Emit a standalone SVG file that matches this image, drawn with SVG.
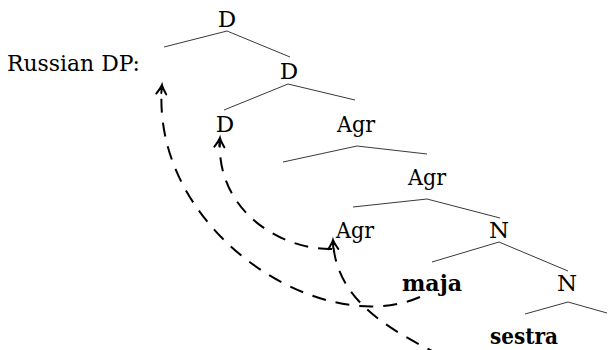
<svg xmlns="http://www.w3.org/2000/svg" width="608" height="350" viewBox="0 0 608 350">
  <style>
    .t { font-family: "DejaVu Serif", serif; font-size: 23px; fill: #000; text-anchor: middle; }
    .b { font-weight: bold; }
    .br { fill: none; stroke: #222; stroke-width: 0.9; }
    .mv { fill: none; stroke: #000; stroke-width: 2; stroke-dasharray: 14 10; }
    .ah { fill: none; stroke: #000; stroke-width: 2; stroke-dasharray: none; stroke-linecap: round; }
  </style>
  <defs>
    <marker id="arrow" markerUnits="userSpaceOnUse" markerWidth="24" markerHeight="24" viewBox="-12 -12 24 24" refX="0" refY="0" orient="auto" overflow="visible">
      <path class="ah" d="M-9,-5 Q-3,-1 0,0 Q-3,1 -9,5 M-8,0 L0,0"/>
    </marker>
  </defs>

  <rect width="608" height="350" fill="#fff"/>

  <g id="label-russian-dp">
    <text class="t" x="7" y="71" style="text-anchor:start" textLength="133" lengthAdjust="spacingAndGlyphs">Russian DP:</text>
  </g>
  <g id="node-D-top"><text class="t" x="227" y="27">D</text></g>
  <g id="node-D-2"><text class="t" x="289" y="79">D</text></g>
  <g id="node-D-3"><text class="t" x="225" y="132">D</text></g>
  <g id="node-Agr-1"><text class="t" x="337" y="132" style="text-anchor:start" textLength="38" lengthAdjust="spacingAndGlyphs">Agr</text></g>
  <g id="node-Agr-2"><text class="t" x="408" y="185" style="text-anchor:start" textLength="38" lengthAdjust="spacingAndGlyphs">Agr</text></g>
  <g id="node-Agr-3"><text class="t" x="336" y="238" style="text-anchor:start" textLength="38" lengthAdjust="spacingAndGlyphs">Agr</text></g>
  <g id="node-N-1"><text class="t" x="499" y="238">N</text></g>
  <g id="node-maja"><text class="t b" x="432" y="291" textLength="60" lengthAdjust="spacingAndGlyphs">maja</text></g>
  <g id="node-N-2"><text class="t" x="567" y="291">N</text></g>
  <g id="node-sestra"><text class="t b" x="490" y="344" style="text-anchor:start" textLength="68" lengthAdjust="spacingAndGlyphs">sestra</text></g>

  <g id="connectors">
    <g id="branches">
      <path class="br" d="M164,47 L227,31 L290,57"/>
      <path class="br" d="M224,110 L288,84 L355,100"/>
      <path class="br" d="M283,162 L357,146 L427,154"/>
      <path class="br" d="M353,207 L427,199 L500,218"/>
      <path class="br" d="M432,262 L499,242 L568,271"/>
      <path class="br" d="M525,314 L568,302 L607,313"/>
    </g>
    <g id="movement">
      <path class="mv" d="M420,297 C320,340 150,230 162,85" marker-end="url(#arrow)"/>
      <path class="mv" d="M332,249 C280,250 215,210 220,138" marker-end="url(#arrow)"/>
      <path class="mv" d="M440,355 C390,330 335,300 333,240" marker-end="url(#arrow)"/>
    </g>
  </g>
</svg>
